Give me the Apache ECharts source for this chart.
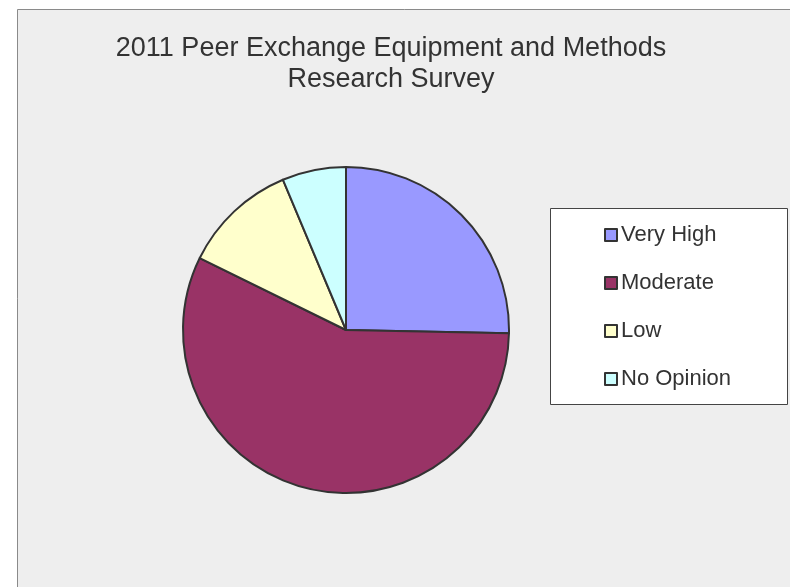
<!DOCTYPE html>
<html>
<head>
<meta charset="utf-8">
<script src="https://cdn.jsdelivr.net/npm/echarts@6/dist/echarts.min.js"></script>
<style>
  html, body { margin: 0; padding: 0; background: #fff; }
  #chart { width: 790px; height: 587px; }
</style>
</head>
<body>
<div id="chart"></div>
<script>
// Survey responses
const categories = ["Very High", "Moderate", "Low", "No Opinion"];
const responses = [20, 45, 9, 5];
const sliceColors = ["#9999ff", "#993366", "#ffffcc", "#ccffff"];

const FONT = "'Liberation Sans', Arial, sans-serif";

const chart = echarts.init(document.getElementById("chart"));

const option = {
  backgroundColor: "#fff",
  animation: false,
  title: {
    text: "2011 Peer Exchange Equipment and Methods\nResearch Survey",
    left: 391,
    top: 33,
    padding: 0,
    textAlign: "center",
    textStyle: {
      fontFamily: FONT,
      fontSize: 27,
      fontWeight: "normal",
      color: "#333",
      lineHeight: 31,
    },
  },
  legend: {
    orient: "vertical",
    left: 599,
    top: 219,
    itemWidth: 12,
    itemHeight: 12,
    itemGap: 26,
    icon: "rect",
    data: categories,
    itemStyle: { borderColor: "#333", borderWidth: 2 },
    textStyle: {
      fontFamily: FONT,
      fontSize: 22,
      color: "#333",
      padding: [0, 0, 0, -1],
    },
  },
  // chart frame and legend box
  graphic: [
    {
      type: "rect",
      z: -10,
      shape: { x: 17.5, y: 9.5, width: 800, height: 600 },
      style: { fill: "#eeeeee", stroke: "#8a8a8a", lineWidth: 1 },
    },
    {
      type: "rect",
      z: -5,
      shape: { x: 550.5, y: 208.5, width: 237, height: 196 },
      style: { fill: "#ffffff", stroke: "#444", lineWidth: 1 },
    },
  ],
  series: [
    {
      type: "pie",
      center: [346, 330],
      radius: 163,
      startAngle: 90,
      clockwise: true,
      label: { show: false },
      labelLine: { show: false },
      emphasis: { disabled: true },
      itemStyle: { borderColor: "#333", borderWidth: 2 },
      data: categories.map((name, i) => ({
        name: name,
        value: responses[i],
        itemStyle: { color: sliceColors[i] },
      })),
    },
  ],
};

chart.setOption(option);
</script>
</body>
</html>
